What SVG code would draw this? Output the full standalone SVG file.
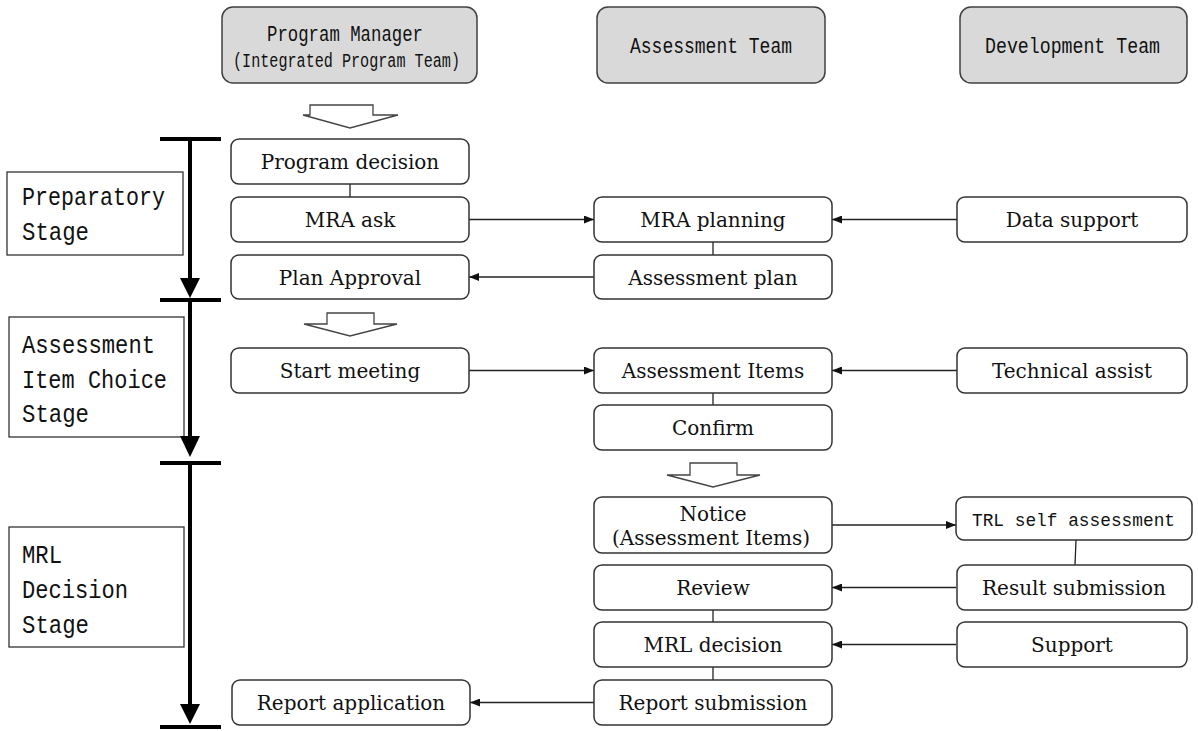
<svg xmlns="http://www.w3.org/2000/svg" width="1198" height="731" viewBox="0 0 1198 731">
  <style>
    .hdr { fill: #d9d9d9; stroke: #404040; stroke-width: 1.5; }
    .box { fill: #ffffff; stroke: #333333; stroke-width: 1.5; }
    .stage { fill: #ffffff; stroke: #333333; stroke-width: 1.3; }
    .mono { font-family: "Liberation Mono", "DejaVu Sans Mono", monospace; fill: #111111; }
    .lbl { font-family: "DejaVu Serif", "Liberation Serif", serif; font-size: 20px; fill: #111111; text-anchor: middle; }
    .conn { stroke: #222222; stroke-width: 1.3; fill: none; }
    .bar { stroke: #000000; stroke-width: 4; fill: none; }
    .hollow { fill: #ffffff; stroke: #444444; stroke-width: 1.3; }
  </style>
  <defs>
    <marker id="ah" viewBox="0 0 10 8" refX="10" refY="4" markerWidth="10" markerHeight="8" markerUnits="userSpaceOnUse" orient="auto">
      <path d="M0,0 L10,4 L0,8 Z" fill="#111111"/>
    </marker>
  </defs>

  <rect width="1198" height="731" fill="#ffffff"/>

  <!-- column headers -->
  <g id="hdr-pm">
    <rect class="hdr" x="222" y="7" width="255" height="76" rx="11"/>
    <text class="mono" x="267" y="41" font-size="22" textLength="156" lengthAdjust="spacingAndGlyphs">Program Manager</text>
    <text class="mono" x="233" y="67" font-size="20" textLength="227" lengthAdjust="spacingAndGlyphs">(Integrated Program Team)</text>
  </g>
  <g id="hdr-assessment">
    <rect class="hdr" x="597" y="7" width="228" height="76" rx="11"/>
    <text class="mono" x="630" y="53" font-size="22" textLength="162" lengthAdjust="spacingAndGlyphs">Assessment Team</text>
  </g>
  <g id="hdr-development">
    <rect class="hdr" x="960" y="7" width="227" height="76" rx="11"/>
    <text class="mono" x="985" y="53" font-size="22" textLength="175" lengthAdjust="spacingAndGlyphs">Development Team</text>
  </g>

  <!-- stage labels -->
  <g id="stage-prep">
    <rect class="stage" x="7" y="172" width="176" height="83"/>
    <text class="mono" x="22" y="205" font-size="26" textLength="143" lengthAdjust="spacingAndGlyphs">Preparatory</text>
    <text class="mono" x="22" y="240" font-size="26" textLength="67" lengthAdjust="spacingAndGlyphs">Stage</text>
  </g>
  <g id="stage-choice">
    <rect class="stage" x="9" y="317" width="175" height="120"/>
    <text class="mono" x="22" y="353" font-size="26" textLength="133" lengthAdjust="spacingAndGlyphs">Assessment</text>
    <text class="mono" x="22" y="388" font-size="26" textLength="145" lengthAdjust="spacingAndGlyphs">Item Choice</text>
    <text class="mono" x="22" y="422" font-size="26" textLength="67" lengthAdjust="spacingAndGlyphs">Stage</text>
  </g>
  <g id="stage-mrl">
    <rect class="stage" x="9" y="527" width="175" height="120"/>
    <text class="mono" x="22" y="563" font-size="26" textLength="40" lengthAdjust="spacingAndGlyphs">MRL</text>
    <text class="mono" x="22" y="598" font-size="26" textLength="106" lengthAdjust="spacingAndGlyphs">Decision</text>
    <text class="mono" x="22" y="633" font-size="26" textLength="67" lengthAdjust="spacingAndGlyphs">Stage</text>
  </g>

  <!-- timeline -->
  <g id="timeline">
    <line class="bar" x1="160" y1="139" x2="221" y2="139"/>
    <line class="bar" x1="190" y1="139" x2="190" y2="282"/>
    <path d="M180,278 L200,278 L190,298 Z" fill="#000000"/>
    <line class="bar" x1="160" y1="300" x2="221" y2="300"/>
    <line class="bar" x1="190" y1="300" x2="190" y2="440"/>
    <path d="M180,436 L200,436 L190,457 Z" fill="#000000"/>
    <line class="bar" x1="160" y1="463" x2="221" y2="463"/>
    <line class="bar" x1="190" y1="463" x2="190" y2="708"/>
    <path d="M180,704 L200,704 L190,724 Z" fill="#000000"/>
    <line class="bar" x1="160" y1="727" x2="221" y2="727"/>
  </g>

  <!-- hollow flow arrows -->
  <g id="flow-arrows">
    <path class="hollow" d="M310,105 L373,105 L373,115 L398,115 L350,128 L303,115 L310,115 Z"/>
    <path class="hollow" d="M327,313 L374,313 L374,324 L397,324 L350,336 L304,324 L327,324 Z"/>
    <path class="hollow" d="M690,463 L737,463 L737,475 L760,475 L713,487 L667,475 L690,475 Z"/>
  </g>

  <!-- connectors -->
  <g id="connectors">
    <line class="conn" x1="350" y1="184" x2="350" y2="197"/>
    <line class="conn" x1="469" y1="219.5" x2="594" y2="219.5" marker-end="url(#ah)"/>
    <line class="conn" x1="957" y1="219.5" x2="832" y2="219.5" marker-end="url(#ah)"/>
    <line class="conn" x1="713" y1="242" x2="713" y2="255"/>
    <line class="conn" x1="594" y1="277" x2="469" y2="277" marker-end="url(#ah)"/>
    <line class="conn" x1="469" y1="370.5" x2="594" y2="370.5" marker-end="url(#ah)"/>
    <line class="conn" x1="957" y1="370.5" x2="832" y2="370.5" marker-end="url(#ah)"/>
    <line class="conn" x1="713" y1="393" x2="713" y2="405"/>
    <line class="conn" x1="832" y1="525" x2="956" y2="525" marker-end="url(#ah)"/>
    <line class="conn" x1="1076" y1="540" x2="1075" y2="565"/>
    <line class="conn" x1="956" y1="587.5" x2="832" y2="587.5" marker-end="url(#ah)"/>
    <line class="conn" x1="713" y1="610" x2="713" y2="622"/>
    <line class="conn" x1="956" y1="644.5" x2="832" y2="644.5" marker-end="url(#ah)"/>
    <line class="conn" x1="713" y1="667" x2="713" y2="680"/>
    <line class="conn" x1="594" y1="702.5" x2="470" y2="702.5" marker-end="url(#ah)"/>
  </g>

  <!-- program manager column -->
  <g id="n-program-decision">
    <rect class="box" x="231" y="139" width="238" height="45" rx="8"/>
    <text class="lbl" x="350" y="169">Program decision</text>
  </g>
  <g id="n-mra-ask">
    <rect class="box" x="231" y="197" width="238" height="45" rx="8"/>
    <text class="lbl" x="350" y="227">MRA ask</text>
  </g>
  <g id="n-plan-approval">
    <rect class="box" x="231" y="255" width="238" height="44" rx="8"/>
    <text class="lbl" x="350" y="284.5">Plan Approval</text>
  </g>
  <g id="n-start-meeting">
    <rect class="box" x="231" y="348" width="238" height="45" rx="8"/>
    <text class="lbl" x="350" y="378">Start meeting</text>
  </g>
  <g id="n-report-application">
    <rect class="box" x="232" y="680" width="238" height="45" rx="8"/>
    <text class="lbl" x="351" y="710">Report application</text>
  </g>

  <!-- assessment team column -->
  <g id="n-mra-planning">
    <rect class="box" x="594" y="197" width="238" height="45" rx="8"/>
    <text class="lbl" x="713" y="227">MRA planning</text>
  </g>
  <g id="n-assessment-plan">
    <rect class="box" x="594" y="255" width="238" height="44" rx="8"/>
    <text class="lbl" x="713" y="284.5">Assessment plan</text>
  </g>
  <g id="n-assessment-items">
    <rect class="box" x="594" y="348" width="238" height="45" rx="8"/>
    <text class="lbl" x="713" y="378">Assessment Items</text>
  </g>
  <g id="n-confirm">
    <rect class="box" x="594" y="405" width="238" height="45" rx="8"/>
    <text class="lbl" x="713" y="435">Confirm</text>
  </g>
  <g id="n-notice">
    <rect class="box" x="594" y="497" width="238" height="56" rx="8"/>
    <text class="lbl" x="713" y="521">Notice</text>
    <text class="lbl" x="711" y="545">(Assessment Items)</text>
  </g>
  <g id="n-review">
    <rect class="box" x="594" y="565" width="238" height="45" rx="8"/>
    <text class="lbl" x="713" y="595">Review</text>
  </g>
  <g id="n-mrl-decision">
    <rect class="box" x="594" y="622" width="238" height="45" rx="8"/>
    <text class="lbl" x="713" y="652">MRL decision</text>
  </g>
  <g id="n-report-submission">
    <rect class="box" x="594" y="680" width="238" height="45" rx="8"/>
    <text class="lbl" x="713" y="710">Report submission</text>
  </g>

  <!-- development team column -->
  <g id="n-data-support">
    <rect class="box" x="957" y="197" width="230" height="45" rx="8"/>
    <text class="lbl" x="1072" y="227">Data support</text>
  </g>
  <g id="n-technical-assist">
    <rect class="box" x="957" y="348" width="230" height="45" rx="8"/>
    <text class="lbl" x="1072" y="378">Technical assist</text>
  </g>
  <g id="n-trl-self-assessment">
    <rect class="box" x="956" y="497" width="236" height="43" rx="8"/>
    <text class="mono" x="972" y="526" font-size="18" textLength="203" lengthAdjust="spacingAndGlyphs">TRL self assessment</text>
  </g>
  <g id="n-result-submission">
    <rect class="box" x="957" y="565" width="235" height="45" rx="8"/>
    <text class="lbl" x="1074" y="595">Result submission</text>
  </g>
  <g id="n-support">
    <rect class="box" x="957" y="622" width="230" height="45" rx="8"/>
    <text class="lbl" x="1072" y="652">Support</text>
  </g>
</svg>
